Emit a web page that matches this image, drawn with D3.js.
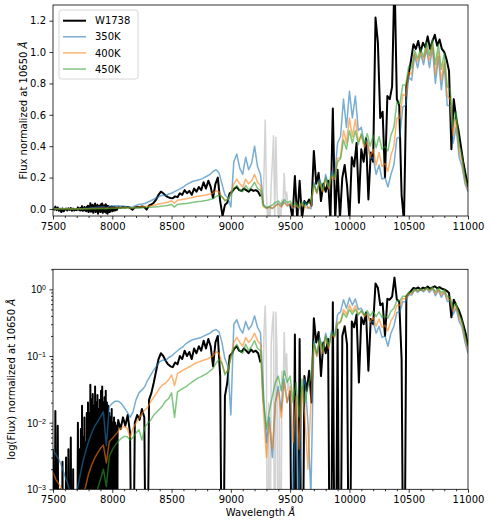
<!DOCTYPE html>
<html>
<head>
<meta charset="utf-8">
<script src="https://cdn.jsdelivr.net/npm/d3@7"></script>
<style>
  body { margin: 0; background: #fff; }
  svg { display: block; font-family: "DejaVu Sans", sans-serif; }
</style>
</head>
<body>
<div id="chart"></div>
<script>
//series names and colours
var seriesNames = ["W1738", "350K", "400K", "450K"];
var seriesColors = ["#000000", "#1f77b4", "#ff7f0e", "#2ca02c"];

//tick values
var xTicks = [7500, 8000, 8500, 9000, 9500, 10000, 10500, 11000];
var yLinTicks = [0.0, 0.2, 0.4, 0.6, 0.8, 1.0, 1.2];
var yLogTicks = [1e-3, 1e-2, 1e-1, 1];
var yLogExponents = ["\u22123", "\u22122", "\u22121", "0"];

//wavelength grids (Angstrom)
var modelWave = d3.range(7500, 11001, 25);
var blackWaveA1 = d3.range(7500, 7721, 10);
var blackWaveA2 = d3.range(7725, 8046, 5);
var blackWaveB = d3.range(8050, 9251, 20);
var grayWave = d3.range(9260, 9491, 10);
var blackWaveC = d3.range(9500, 11001, 20);

//W1738 observed flux, normalized at 10650
var blackFluxA1 = [
  0.004, -0.005, 0.015, -0.008, 0.009, -0.012, 0.001, -0.02, 0.0026, -0.015,
  -0.005, 0.003, -0.01, 0.004, -0.006, 0.006, -0.012, 0.002, -0.01, -0.004,
  -0.008, 0.01, -0.006
];
var blackFluxA2 = [
  0.004, -0.01, 0.008, -0.006, 0.018, -0.012, 0.006, -0.01, 0.012, -0.008,
  0.005, -0.015, 0.014, -0.01, 0.02, -0.02, 0.014, -0.012, 0.037, -0.018,
  0.022, -0.015, 0.027, -0.025, 0.018, -0.01, 0.035, -0.02, 0.02, -0.015,
  0.026, -0.03, 0.016, -0.012, 0.022, -0.02, 0.03, -0.015, 0.035, -0.025,
  0.02, -0.015, 0.024, -0.02, 0.03, -0.025, 0.02, -0.03, 0.018, -0.02,
  0.014, -0.02, 0.012, -0.01, 0.016, -0.015, 0.01, -0.012, 0.012, -0.01,
  0.01, -0.008, 0.009, -0.005, 0.008
];
var blackFluxB = [
  0.011, 0.008, 0.012, 0.009, 0.013, 0.007, -0.005, 0.010, 0.013, 0.011,
  0.016, 0.012, -0.004, 0.022, 0.028, 0.04, 0.06, 0.09, 0.11, 0.10,
  0.085, 0.075, 0.07, 0.068, 0.08, 0.075, 0.10, 0.09, 0.12, 0.10,
  0.115, 0.09, 0.13, 0.11, 0.14, 0.12, 0.17, 0.13, 0.18, 0.14,
  0.07, 0.16, 0.20, 0.05, -0.045, 0.025, 0.04, 0.10, 0.11, 0.13,
  0.14, 0.12, 0.115, 0.13, 0.12, 0.11, 0.125, 0.115, 0.12, 0.11,
  0.08
];
//telluric region (grey)
var grayFlux = [
  0.05, 0.02, 0.25, 0.57, 0.1, -0.08, 0.02, -0.08, 0.15, 0.30,
  0.47, -0.06, 0.46, 0.1, -0.07, 0.02, -0.08, 0.06, 0.03, 0.23,
  0.05, 0.11, 0.03, 0.04
];
var blackFluxC = [
  0.03, -0.06, 0.21, -0.07, 0.18, -0.06, 0.05, 0.03, 0.06, 0.02,
  0.37, 0.16, 0.23, 0.05, 0.16, 0.11, 0.18, -0.07, 0.64, -0.07,
  0.25, -0.06, 0.20, 0.28, 0.15, -0.07, 0.33, 0.27, 0.42, 0.04,
  0.38, 0.30, 0.45, 0.06, 0.36, 0.30, 1.22, 1.06, 0.58, 0.62,
  0.20, 0.72, 0.70, 0.78, 1.5, 0.70, 0.66, 0.09, -0.08, 0.78,
  0.86, 0.95, 1.05, 1.02, 1.07, 1.0, 1.06, 1.03, 1.1, 1.02,
  1.07, 1.11, 1.04, 1.08, 1.02, 1.0, 0.95, 0.88, 0.38, 0.70,
  0.58, 0.50, 0.40, 0.30, 0.22, 0.14
];

//model fluxes, one row = 250 Angstrom
var flux350 = [
  0.0039, 0.0033, 0.0028, 0.0022, 0.0016, 0.0012, 0.0008, 0.0006, 0.0009, 0.0015,
  0.0025, 0.0037, 0.0052, 0.0069, 0.0087, 0.0103, 0.0122, 0.0145, 0.0045, 0.0174,
  0.0195, 0.021, 0.021, 0.0195, 0.017, 0.0145, 0.012, 0.0145, 0.022, 0.028,
  0.031, 0.035, 0.044, 0.052, 0.062, 0.071, 0.082, 0.087, 0.085, 0.095,
  0.10, 0.11, 0.12, 0.13, 0.14, 0.155, 0.165, 0.175, 0.18, 0.185,
  0.19, 0.20, 0.21, 0.22, 0.24, 0.25, 0.23, 0.16, 0.09, 0.07,
  0.013, 0.30, 0.35, 0.26, 0.22, 0.33, 0.25, 0.29, 0.40, 0.27,
  0.22, 0.03, 0.005, 0.012, 0.003, 0.02, 0.035, 0.015, 0.045, 0.02,
  0.03, 0.0006, 0.02, 0.0006, 0.03, 0.045, 0.01, 0.0008, 0.17, 0.10,
  0.19, 0.12, 0.22, 0.14, 0.24, 0.20, 0.42, 0.46, 0.70, 0.52,
  0.75, 0.58, 0.72, 0.50, 0.52, 0.42, 0.44, 0.32, 0.33, 0.22,
  0.28, 0.19, 0.20, 0.14, 0.22, 0.28, 0.45, 0.46, 0.65, 0.66,
  0.84, 0.82, 0.98, 0.90, 0.99, 0.92, 1.02, 0.90, 1.03, 0.80,
  0.97, 0.76, 0.92, 0.66, 0.66, 0.42, 0.52, 0.33, 0.27, 0.16,
  0.11
];
var flux400 = [
  0.0018, 0.0014, 0.0012, 0.001, 0.0007, 0.0005, 0.0004, 0.0004, 0.0004, 0.0005,
  0.0008, 0.0011, 0.0017, 0.0023, 0.0029, 0.0035, 0.0041, 0.0046, 0.0025, 0.0052,
  0.0058, 0.0065, 0.0074, 0.0083, 0.0087, 0.0083, 0.006, 0.0083, 0.0098, 0.0116,
  0.0138, 0.0155, 0.017, 0.021, 0.024, 0.028, 0.033, 0.037, 0.039, 0.044,
  0.052, 0.036, 0.055, 0.058, 0.062, 0.065, 0.069, 0.073, 0.078, 0.081,
  0.084, 0.087, 0.09, 0.095, 0.10, 0.116, 0.11, 0.078, 0.055, 0.06,
  0.098, 0.16, 0.19, 0.16, 0.14, 0.19, 0.16, 0.18, 0.22, 0.17,
  0.15, 0.015, 0.003, 0.01, 0.004, 0.02, 0.03, 0.012, 0.04, 0.02,
  0.035, 0.005, 0.025, 0.004, 0.035, 0.012, 0.002, 0.02, 0.15, 0.10,
  0.17, 0.11, 0.19, 0.13, 0.21, 0.19, 0.32, 0.33, 0.50, 0.42,
  0.58, 0.46, 0.57, 0.43, 0.47, 0.39, 0.43, 0.33, 0.38, 0.28,
  0.36, 0.27, 0.29, 0.24, 0.34, 0.40, 0.58, 0.58, 0.73, 0.72,
  0.87, 0.86, 0.99, 0.94, 1.00, 0.95, 1.03, 0.95, 1.05, 0.86,
  1.00, 0.82, 0.94, 0.72, 0.70, 0.47, 0.57, 0.37, 0.30, 0.18,
  0.12
];
var flux450 = [
  0.0001, 0.0001, 0.0001, 0.0001, 0.0001, 0.0001, 0.0001, 0.0001, 0.0001, 0.0002,
  0.0003, 0.0004, 0.0005, 0.0007, 0.0008, 0.001, 0.0014, 0.002, 0.0011, 0.0031,
  0.0039, 0.0046, 0.0052, 0.0058, 0.0062, 0.0062, 0.0055, 0.006, 0.007, 0.0078,
  0.0055, 0.0087, 0.0098, 0.011, 0.013, 0.0145, 0.016, 0.018, 0.021, 0.023,
  0.028, 0.012, 0.029, 0.031, 0.033, 0.035, 0.038, 0.041, 0.044, 0.047,
  0.049, 0.052, 0.055, 0.06, 0.065, 0.078, 0.089, 0.078, 0.052, 0.062,
  0.092, 0.13, 0.15, 0.12, 0.11, 0.15, 0.12, 0.14, 0.17, 0.13,
  0.12, 0.02, 0.008, 0.015, 0.025, 0.04, 0.05, 0.03, 0.06, 0.04,
  0.05, 0.02, 0.04, 0.012, 0.045, 0.02, 0.035, 0.05, 0.16, 0.11,
  0.18, 0.12, 0.20, 0.14, 0.22, 0.20, 0.30, 0.32, 0.44, 0.38,
  0.50, 0.42, 0.50, 0.41, 0.48, 0.41, 0.48, 0.40, 0.47, 0.39,
  0.46, 0.38, 0.40, 0.37, 0.47, 0.52, 0.68, 0.67, 0.79, 0.79,
  0.91, 0.90, 1.01, 0.96, 1.02, 0.97, 1.06, 0.98, 1.08, 0.92,
  1.05, 0.89, 0.99, 0.78, 0.76, 0.53, 0.62, 0.41, 0.34, 0.20,
  0.14
];

//pair up wavelengths and fluxes
function pairs(wave, flux) {
  return wave.map(function(w, i) { return [w, flux[i]]; });
}
var blackMain = pairs(blackWaveA1, blackFluxA1)
  .concat(pairs(blackWaveA2, blackFluxA2))
  .concat(pairs(blackWaveB, blackFluxB));
var blackRed = pairs(blackWaveC, blackFluxC);
var grayPart = pairs(grayWave, grayFlux);
var models = [flux350, flux400, flux450].map(function(f, i) {
  return { name: seriesNames[i + 1], color: seriesColors[i + 1], data: pairs(modelWave, f) };
});

//canvas
var width = 491, height = 527;
var svg = d3.select("#chart").append("svg")
  .attr("width", width)
  .attr("height", height);

var left = 53, right = 468;
var x = d3.scaleLinear().domain([7500, 11000]).range([left, right]);
var yLin = d3.scaleLinear().domain([-0.045, 1.3]).range([216, 5]);
var yLog = d3.scaleLog().domain([1e-3, 2]).range([489.3, 269.3]);

var minorX = d3.range(7500, 11001, 100).filter(function(d) { return d % 500 != 0; });

function styleAxis(g) {
  g.select(".domain").remove();
  g.selectAll("line").attr("stroke", "#000").attr("stroke-width", 0.8);
  g.selectAll("text").attr("font-size", 10).attr("fill", "#000")
    .attr("font-family", "DejaVu Sans, sans-serif");
}

function drawPanel(y, isLog, top, bottom, clipId) {
  svg.append("clipPath").attr("id", clipId)
    .append("rect")
      .attr("x", left).attr("y", top)
      .attr("width", right - left).attr("height", bottom - top);

  var line = d3.line()
    .x(function(d) { return x(d[0]); })
    .y(function(d) { return y(isLog ? Math.max(d[1], 1e-6) : d[1]); });

  var plot = svg.append("g").attr("clip-path", "url(#" + clipId + ")");

  [blackMain, blackRed].forEach(function(seg) {
    plot.append("path").datum(seg)
      .attr("d", line)
      .attr("fill", "none")
      .attr("stroke", seriesColors[0])
      .attr("stroke-width", 2)
      .attr("stroke-linejoin", "round");
  });

  plot.append("path").datum(grayPart)
    .attr("d", line)
    .attr("fill", "none")
    .attr("stroke", "#d3d3d3")
    .attr("stroke-width", 1.5);

  models.forEach(function(m) {
    plot.append("path").datum(m.data)
      .attr("d", line)
      .attr("fill", "none")
      .attr("stroke", m.color)
      .attr("stroke-opacity", 0.6)
      .attr("stroke-width", 1.5)
      .attr("stroke-linejoin", "round");
  });

  //x axis, major and minor ticks
  svg.append("g")
    .attr("transform", "translate(0," + bottom + ")")
    .call(d3.axisBottom(x).tickValues(xTicks).tickSize(3.5).tickPadding(3.5).tickFormat(d3.format("d")))
    .call(styleAxis);
  svg.append("g")
    .attr("transform", "translate(0," + bottom + ")")
    .call(d3.axisBottom(x).tickValues(minorX).tickSize(2).tickFormat(""))
    .call(styleAxis);

  //frame
  svg.append("rect")
    .attr("x", left).attr("y", top)
    .attr("width", right - left).attr("height", bottom - top)
    .attr("fill", "none")
    .attr("stroke", "#000")
    .attr("stroke-width", 0.8);
}

//top panel: linear
drawPanel(yLin, false, 5, 216, "clipTop");
svg.append("g")
  .attr("transform", "translate(" + left + ",0)")
  .call(d3.axisLeft(yLin).tickValues(yLinTicks).tickSize(3.5).tickPadding(3.5).tickFormat(d3.format(".1f")))
  .call(styleAxis);

//bottom panel: log
drawPanel(yLog, true, 269.3, 489.3, "clipBottom");
var logAxis = svg.append("g")
  .attr("transform", "translate(" + left + ",0)")
  .call(d3.axisLeft(yLog).tickValues(yLogTicks).tickSize(3.5).tickFormat(""))
  .call(styleAxis);
logAxis.selectAll(".tick").each(function(d, i) {
  var t = d3.select(this).append("text")
    .attr("x", -7)
    .attr("dy", "0.36em")
    .attr("text-anchor", "end")
    .attr("font-size", 10)
    .attr("fill", "#000");
  t.append("tspan").text("10");
  t.append("tspan").attr("dy", "-0.45em").attr("font-size", 7).text(yLogExponents[i]);
});

//minor log ticks
var minorLog = [];
[1e-3, 1e-2, 1e-1, 1].forEach(function(dec) {
  for (var k = 2; k <= 9; k++) {
    if (dec * k <= 2) minorLog.push(dec * k);
  }
});
svg.append("g")
  .attr("transform", "translate(" + left + ",0)")
  .call(d3.axisLeft(yLog).tickValues(minorLog).tickSize(2).tickFormat(""))
  .call(styleAxis);

//axis labels
function angstromLabel(sel, txt) {
  sel.append("tspan").text(txt);
  sel.append("tspan").attr("font-style", "italic").text("\u00c5");
}
svg.append("text")
  .attr("transform", "translate(27," + ((5 + 216) / 2) + ") rotate(-90)")
  .attr("text-anchor", "middle")
  .attr("font-size", 10)
  .call(angstromLabel, "Flux normalized at 10650 ");
svg.append("text")
  .attr("transform", "translate(15," + ((269.3 + 489.3) / 2) + ") rotate(-90)")
  .attr("text-anchor", "middle")
  .attr("font-size", 10)
  .call(angstromLabel, "log(Flux) normalized at 10650 ");
svg.append("text")
  .attr("x", (left + right) / 2)
  .attr("y", 516)
  .attr("text-anchor", "middle")
  .attr("font-size", 10)
  .call(angstromLabel, "Wavelength ");

//legend
var legend = svg.append("g");
legend.append("rect")
  .attr("x", 59).attr("y", 10)
  .attr("width", 79).attr("height", 69)
  .attr("rx", 2.5)
  .attr("fill", "#fff")
  .attr("fill-opacity", 0.8)
  .attr("stroke", "#cccccc")
  .attr("stroke-width", 0.8);
var legendY = d3.scaleLinear().domain([0, 3]).range([20.7, 69]);
seriesNames.forEach(function(name, i) {
  legend.append("line")
    .attr("x1", 63).attr("x2", 86)
    .attr("y1", legendY(i)).attr("y2", legendY(i))
    .attr("stroke", seriesColors[i])
    .attr("stroke-opacity", i == 0 ? 1 : 0.6)
    .attr("stroke-width", i == 0 ? 2 : 1.5);
  legend.append("text")
    .attr("x", 95)
    .attr("y", legendY(i))
    .attr("dy", "0.36em")
    .attr("font-size", 10)
    .text(name);
});
</script>
</body>
</html>
